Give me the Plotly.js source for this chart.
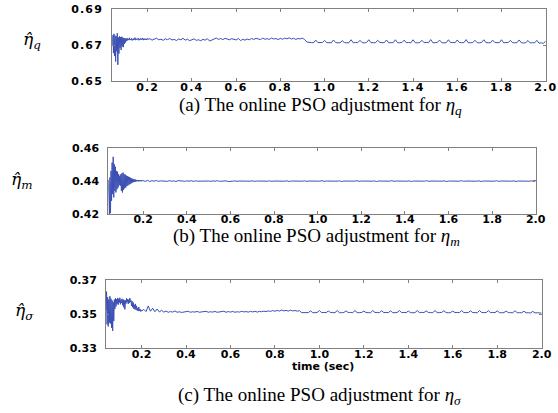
<!DOCTYPE html>
<html><head><meta charset="utf-8">
<script src="https://cdn.plot.ly/plotly-3.0.1.min.js"></script>
<style>
html,body{margin:0;padding:0;background:#fff;}
#chart{width:558px;height:413px;}
</style></head><body><div id="chart"></div><script>
// sample grid (seconds)
const earlyStart = 0.04, earlyStep = 0.0025;   // 0.04 .. 0.20
const lateStart = 0.2, lateStep = 0.01;        // 0.20 .. 2.00

// (a) eta_q estimate
const etaQEarly = [
0.6700,0.6755,0.6655,0.6762,0.6640,0.6752,0.6608,0.6748,0.6665,0.6765,
0.6590,0.6742,0.6652,0.6748,0.6685,0.6744,0.6672,0.6746,0.6692,0.6741,
0.6688,0.6739,0.6706,0.6738,0.6714,0.6736,
0.6722,0.6737,0.6726,0.6734,0.6728,0.6740,0.6727,0.6733,0.6729,0.6738,
0.6725,0.6732,0.6728,0.6736,0.6730,0.6741,0.6727,0.6734,0.6729,0.6735,
0.6731,0.6738,0.6726,0.6733,0.6730,0.6737,0.6728,0.6735,0.6731,0.6739,
0.6727,0.6734,0.6730,0.6736,0.6728,0.6733,0.6729,0.6737,0.6731];
const etaQLate = [
0.6731,0.6735,0.6727,0.6733,0.6738,0.6729,0.6732,0.6726,0.6734,0.6730,
0.6736,0.6728,0.6731,0.6725,0.6733,0.6729,0.6737,0.6727,0.6732,0.6724,
0.6730,0.6734,0.6726,0.6729,0.6724,0.6731,0.6727,0.6735,0.6722,0.6730,
0.6733,0.6739,0.6731,0.6736,0.6730,0.6737,0.6732,0.6729,0.6735,0.6733,
0.6728,0.6736,0.6725,0.6731,0.6727,0.6733,0.6729,0.6736,0.6731,0.6737,
0.6733,0.6730,0.6738,0.6732,0.6735,0.6731,0.6739,0.6733,0.6736,0.6730,
0.6737,0.6732,0.6738,0.6734,0.6740,0.6733,0.6737,0.6731,0.6736,0.6734,
0.6738,0.6730,0.6716,
0.6713,0.6714,0.6712,0.6727, 0.6713,0.6712,0.6714,0.6725, 0.6713,0.6713,0.6712,0.6728,
0.6714,0.6712,0.6713,0.6724, 0.6713,0.6712,0.6713,0.6729, 0.6712,0.6714,0.6713,0.6726,
0.6713,0.6712,0.6714,0.6729, 0.6713,0.6713,0.6712,0.6726, 0.6714,0.6713,0.6713,0.6728,
0.6712,0.6713,0.6713,0.6729, 0.6713,0.6712,0.6714,0.6727, 0.6713,0.6714,0.6712,0.6729,
0.6713,0.6712,0.6713,0.6726, 0.6713,0.6714,0.6713,0.6730, 0.6712,0.6713,0.6714,0.6727,
0.6713,0.6712,0.6713,0.6729, 0.6713,0.6714,0.6712,0.6728, 0.6714,0.6713,0.6713,0.6730,
0.6712,0.6713,0.6713,0.6726, 0.6713,0.6712,0.6714,0.6729, 0.6713,0.6713,0.6712,0.6727,
0.6714,0.6713,0.6713,0.6729, 0.6712,0.6714,0.6713,0.6726, 0.6713,0.6712,0.6713,0.6728,
0.6712,0.6711,0.6713,0.6725, 0.6711,0.6713,0.6712,0.6726, 0.6710,0.6712,0.6709,0.6722];

// (b) eta_m estimate
const etaMEarly = [
0.4400,0.4330,0.4200,0.4420,0.4205,0.4460,0.4280,0.4510,0.4320,0.4545,
0.4300,0.4500,0.4340,0.4485,0.4330,0.4460,0.4350,0.4455,0.4360,0.4440,
0.4375,0.4430,0.4370,0.4440,0.4340,0.4445,0.4330,0.4450,0.4345,0.4440,
0.4355,0.4438,0.4360,0.4432,0.4368,0.4428,0.4372,0.4425,0.4378,0.4422,
0.4380,0.4418,0.4385,0.4415,0.4390,0.4412,0.4392,0.4410,0.4394,0.4409,
0.4395,0.4406,0.4397,0.4405,0.4398,0.4404,0.4396,0.4405,0.4399,0.4403,
0.4397,0.4404,0.4398,0.4403,0.4400];
const etaMLate = [
0.4401,0.4397,0.4403,0.4396,0.4401,0.4398,0.4402,0.4397,0.4400,0.4398,
0.4400,0.4397,0.4401,0.4398,0.4400,0.4396,0.4401,0.4398,0.4399,0.4397,
0.4400,0.4398,0.4401,0.4397,0.4400,0.4398,0.4399,0.4396,0.4400,0.4398,
0.4399,0.4397,0.4400,0.4398,0.4401,0.4397,0.4399,0.4398,0.4400,0.4396,
0.4399,0.4398,0.4400,0.4397,0.4399,0.4398,0.4401,0.4397,0.4399,0.4398,
0.4400,0.4397,0.4399,0.4398,0.4400,0.4396,0.4399,0.4398,0.4400,0.4397,
0.4399,0.4398,0.4400,0.4397,0.4399,0.4398,0.4400,0.4396,0.4399,0.4398,
0.4400,0.4397,0.4399,0.4398,0.4400,0.4397,0.4399,0.4398,0.4400,0.4396,
0.4399,0.4398,0.4401,0.4397,0.4399,0.4398,0.4400,0.4397,0.4399,0.4398,
0.4400,0.4396,0.4399,0.4398,0.4400,0.4397,0.4399,0.4398,0.4401,0.4397,
0.4399,0.4398,0.4400,0.4397,0.4399,0.4398,0.4400,0.4396,0.4399,0.4398,
0.4400,0.4397,0.4399,0.4398,0.4401,0.4397,0.4399,0.4398,0.4400,0.4397,
0.4399,0.4398,0.4400,0.4396,0.4399,0.4398,0.4400,0.4397,0.4399,0.4398,
0.4401,0.4397,0.4399,0.4398,0.4400,0.4397,0.4399,0.4398,0.4400,0.4396,
0.4399,0.4398,0.4400,0.4397,0.4399,0.4398,0.4401,0.4397,0.4399,0.4398,
0.4400,0.4397,0.4399,0.4398,0.4400,0.4396,0.4399,0.4398,0.4400,0.4397,
0.4399,0.4398,0.4401,0.4397,0.4399,0.4398,0.4400,0.4397,0.4399,0.4398,
0.4400,0.4396,0.4399,0.4398,0.4400,0.4397,0.4399,0.4398,0.4400,0.4397,
0.4399];

// (c) eta_sigma estimate
const etaSEarly = [
0.3520,0.3632,0.3440,0.3600,0.3428,0.3585,0.3450,0.3605,0.3445,0.3590,
0.3420,0.3580,0.3402,0.3570,0.3460,0.3585,0.3530,0.3592,0.3545,0.3588,
0.3560,0.3595,0.3555,0.3590,0.3568,0.3596,0.3558,0.3584,0.3565,0.3590,
0.3552,0.3586,0.3540,0.3582,0.3528,0.3580,0.3562,0.3592,0.3570,0.3588,
0.3560,0.3585,0.3566,0.3594,0.3572,0.3580,0.3548,0.3575,0.3540,0.3568,
0.3532,0.3555,0.3528,0.3560,0.3526,0.3548,0.3522,0.3535,0.3518,0.3542,
0.3520,0.3530,0.3516,0.3525,0.3518];
const etaSLate = [
0.3518,0.3528,0.3515,0.3548,0.3517,0.3535,0.3514,0.3530,0.3513,0.3522,
0.3512,0.3518,0.3511,0.3515,0.3512,0.3519,0.3511,0.3514,0.3510,0.3513,
0.3512,0.3517,0.3511,0.3514,0.3512,0.3516,0.3511,0.3513,0.3512,0.3517,
0.3511,0.3514,0.3512,0.3516,0.3511,0.3513,0.3512,0.3517,0.3511,0.3515,
0.3512,0.3516,0.3511,0.3514,0.3512,0.3517,0.3513,0.3515,0.3512,0.3516,
0.3513,0.3517,0.3512,0.3516,0.3514,0.3518,0.3515,0.3519,0.3516,0.3521,
0.3517,0.3522,0.3518,0.3524,0.3519,0.3522,0.3518,0.3523,0.3519,0.3521,
0.3518,0.3520,0.3509,
0.3509,0.3510,0.3509,0.3519, 0.3509,0.3508,0.3510,0.3521, 0.3509,0.3510,0.3509,0.3518,
0.3510,0.3509,0.3509,0.3521, 0.3509,0.3508,0.3510,0.3519, 0.3509,0.3510,0.3509,0.3521,
0.3509,0.3509,0.3510,0.3518, 0.3509,0.3509,0.3508,0.3521, 0.3510,0.3509,0.3509,0.3520,
0.3509,0.3510,0.3509,0.3519, 0.3509,0.3508,0.3510,0.3521, 0.3509,0.3510,0.3509,0.3518,
0.3509,0.3508,0.3509,0.3521, 0.3509,0.3510,0.3509,0.3519, 0.3510,0.3509,0.3509,0.3521,
0.3509,0.3509,0.3510,0.3520, 0.3509,0.3508,0.3509,0.3518, 0.3509,0.3510,0.3509,0.3521,
0.3509,0.3509,0.3510,0.3519, 0.3509,0.3509,0.3508,0.3521, 0.3510,0.3509,0.3509,0.3520,
0.3509,0.3510,0.3509,0.3519, 0.3509,0.3508,0.3509,0.3518, 0.3509,0.3509,0.3508,0.3520,
0.3508,0.3509,0.3508,0.3517, 0.3508,0.3508,0.3507,0.3516, 0.3507,0.3508,0.3507,0.3506];

// ticks and labels
const xTickVals = [0.2,0.4,0.6,0.8,1.0,1.2,1.4,1.6,1.8,2.0];
const xTickText = ['0.2','0.4','0.6','0.8','1.0','1.2','1.4','1.6','1.8','2.0'];
const yTicksQ = [0.65,0.67,0.69];
const yTicksM = [0.42,0.44,0.46];
const yTicksS = [0.33,0.35,0.37];
const captions = [
  '(a) The online PSO adjustment for <i>η<sub>q</sub></i>',
  '(b) The online PSO adjustment for <i>η<sub>m</sub></i>',
  '(c) The online PSO adjustment for <i>η<sub>σ</sub></i>'];
const yLabels = ['<i>η̂<sub>q</sub></i>','<i>η̂<sub>m</sub></i>','<i>η̂<sub>σ</sub></i>'];
const xLabel = 'time (sec)';

const W = 558, H = 413;
const lineColor = '#3b4fb4';
function tr(y, start, step, ax) {
  return {type:'scatter', mode:'lines', y:y, x0:start, dx:step,
    xaxis:'x'+ax, yaxis:'y'+ax, line:{color:lineColor, width:1}, hoverinfo:'skip', showlegend:false};
}
const data = [
  tr(etaQEarly, earlyStart, earlyStep, ''), tr(etaQLate, lateStart, lateStep, ''),
  tr(etaMEarly, earlyStart, earlyStep, '2'), tr(etaMLate, lateStart, lateStep, '2'),
  tr(etaSEarly, earlyStart, earlyStep, '3'), tr(etaSLate, lateStart, lateStep, '3')
];
const tickFont = {family:'DejaVu Sans', size:11, color:'#000', weight:700};
function xa(l, r, anchor, standoff) {
  return {domain:[l/W, r/W], range:[0.04, 2.0], anchor:anchor, tickvals:xTickVals, ticktext:xTickText,
    ticks:'inside', ticklen:3, tickcolor:'#808080', showline:true, linecolor:'#808080', linewidth:1,
    mirror:'ticks', showgrid:false, zeroline:false, tickfont:tickFont, ticklabelstandoff:standoff, fixedrange:true};
}
function ya(top, bot, rng, tv, anchor) {
  return {domain:[1-bot/H, 1-top/H], range:rng, anchor:anchor, tickvals:tv, tickformat:'.2f',
    ticks:'inside', ticklen:3, tickcolor:'#808080', showline:true, linecolor:'#808080', linewidth:1,
    mirror:'ticks', showgrid:false, zeroline:false, tickfont:tickFont, ticklabelstandoff:6, fixedrange:true};
}
function ann(text, px, py, font, anchor) {
  return {text:text, xref:'paper', yref:'paper', x:px/W, y:1-py/H, xanchor:anchor||'center', yanchor:'middle',
    showarrow:false, font:font};
}
const capFont = {family:'Liberation Serif', size:19, color:'#000'};
const labFont = {family:'DejaVu Serif', size:17, color:'#000'};
const layout = {
  width:W, height:H, margin:{l:0,r:0,t:0,b:0}, paper_bgcolor:'#fff', plot_bgcolor:'#fff',
  xaxis: xa(112.3, 545.7, 'y', -4), yaxis: ya(9, 81, [0.65,0.69], yTicksQ, 'x'),
  xaxis2: xa(108.3, 535.7, 'y2', -5), yaxis2: ya(147.7, 214, [0.42,0.46], yTicksM, 'x2'),
  xaxis3: xa(106, 541.7, 'y3', -5), yaxis3: ya(280, 348.3, [0.33,0.37], yTicksS, 'x3'),
  annotations: [
    ann(captions[0], 320.5, 106, capFont), ann(captions[1], 316.5, 237, capFont), ann(captions[2], 319, 396, capFont),
    ann(yLabels[0], 32, 40, labFont), ann(yLabels[1], 21, 180, labFont), ann(yLabels[2], 24, 311, labFont),
    ann(xLabel, 323, 366, {family:'DejaVu Sans', size:11, color:'#000', weight:700})
  ]
};
Plotly.newPlot('chart', data, layout, {staticPlot:true, displayModeBar:false}).then(function () {
  document.querySelectorAll('g.xtick text, g.ytick text').forEach(function (el) {
    el.setAttribute('letter-spacing', '1.2');
  });
});
</script></body></html>
